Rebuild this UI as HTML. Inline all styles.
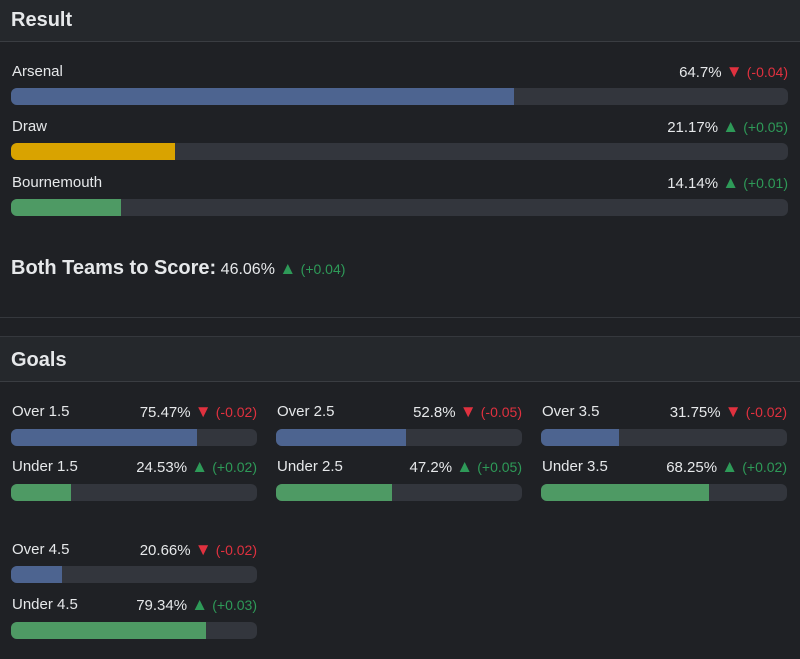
<!DOCTYPE html>
<html><head><style>
body{margin:0;width:800px;height:659px;background:#1f2125;font-family:"Liberation Sans",sans-serif;color:#e6e8ea;position:relative;overflow:hidden}
.a{position:absolute}
.hdr{left:0;width:800px;background:#25282c;border-bottom:1px solid #3a3d42}
.hdr span{position:absolute;left:11px;font-weight:bold;font-size:20px}
.lbl{font-size:15px;white-space:nowrap}
.val{font-size:15px;white-space:nowrap;text-align:right}
.dn{color:#e0313f}.up{color:#2e9a58}
.tri{font-size:17px}
.t{font-size:14px}
.tr{height:17px;background:#33363d;border-radius:6px;overflow:hidden}
.f{height:100%}
.b{background:#4d6490}.y{background:#d9a300}.g{background:#4e9a64}
</style></head><body>
<div class="a hdr" style="top:0;height:41px"><span style="top:9px">Result</span></div>
<div class="a" style="top:317px;left:0;width:800px;border-top:1px solid #35383d"></div>
<div class="a hdr" style="top:336px;height:44px;border-top:1px solid #35383d"><span style="top:12px">Goals</span></div>

<div class="a lbl" style="left:12px;top:63px">Arsenal</div>
<div class="a val" style="right:12px;top:62px">64.7% <span class="dn"><span class="tri">▼</span> <span class="t">(-0.04)</span></span></div>
<div class="a tr" style="left:11px;top:88px;width:777px"><div class="f b" style="width:64.7%"></div></div>

<div class="a lbl" style="left:12px;top:118px">Draw</div>
<div class="a val" style="right:12px;top:117px">21.17% <span class="up"><span class="tri">▲</span> <span class="t">(+0.05)</span></span></div>
<div class="a tr" style="left:11px;top:143px;width:777px"><div class="f y" style="width:21.17%"></div></div>

<div class="a lbl" style="left:12px;top:174px">Bournemouth</div>
<div class="a val" style="right:12px;top:173px">14.14% <span class="up"><span class="tri">▲</span> <span class="t">(+0.01)</span></span></div>
<div class="a tr" style="left:11px;top:199px;width:777px"><div class="f g" style="width:14.14%"></div></div>

<div class="a" style="left:11px;top:257px;font-size:16px;white-space:nowrap"><b style="font-size:20px">Both Teams to Score:</b> 46.06% <span class="up"><span class="tri">▲</span> <span class="t">(+0.04)</span></span></div>

<div class="a lbl" style="left:12px;top:403px">Over 1.5</div>
<div class="a val" style="right:543px;top:402px">75.47% <span class="dn"><span class="tri">▼</span> <span class="t">(-0.02)</span></span></div>
<div class="a tr" style="left:11px;top:429px;width:246px"><div class="f b" style="width:75.47%"></div></div>
<div class="a lbl" style="left:12px;top:458px">Under 1.5</div>
<div class="a val" style="right:543px;top:457px">24.53% <span class="up"><span class="tri">▲</span> <span class="t">(+0.02)</span></span></div>
<div class="a tr" style="left:11px;top:484px;width:246px"><div class="f g" style="width:24.53%"></div></div>

<div class="a lbl" style="left:277px;top:403px">Over 2.5</div>
<div class="a val" style="right:278px;top:402px">52.8% <span class="dn"><span class="tri">▼</span> <span class="t">(-0.05)</span></span></div>
<div class="a tr" style="left:276px;top:429px;width:246px"><div class="f b" style="width:52.8%"></div></div>
<div class="a lbl" style="left:277px;top:458px">Under 2.5</div>
<div class="a val" style="right:278px;top:457px">47.2% <span class="up"><span class="tri">▲</span> <span class="t">(+0.05)</span></span></div>
<div class="a tr" style="left:276px;top:484px;width:246px"><div class="f g" style="width:47.2%"></div></div>

<div class="a lbl" style="left:542px;top:403px">Over 3.5</div>
<div class="a val" style="right:13px;top:402px">31.75% <span class="dn"><span class="tri">▼</span> <span class="t">(-0.02)</span></span></div>
<div class="a tr" style="left:541px;top:429px;width:246px"><div class="f b" style="width:31.75%"></div></div>
<div class="a lbl" style="left:542px;top:458px">Under 3.5</div>
<div class="a val" style="right:13px;top:457px">68.25% <span class="up"><span class="tri">▲</span> <span class="t">(+0.02)</span></span></div>
<div class="a tr" style="left:541px;top:484px;width:246px"><div class="f g" style="width:68.25%"></div></div>

<div class="a lbl" style="left:12px;top:541px">Over 4.5</div>
<div class="a val" style="right:543px;top:540px">20.66% <span class="dn"><span class="tri">▼</span> <span class="t">(-0.02)</span></span></div>
<div class="a tr" style="left:11px;top:566px;width:246px"><div class="f b" style="width:20.66%"></div></div>
<div class="a lbl" style="left:12px;top:596px">Under 4.5</div>
<div class="a val" style="right:543px;top:595px">79.34% <span class="up"><span class="tri">▲</span> <span class="t">(+0.03)</span></span></div>
<div class="a tr" style="left:11px;top:622px;width:246px"><div class="f g" style="width:79.34%"></div></div>
</body></html>
